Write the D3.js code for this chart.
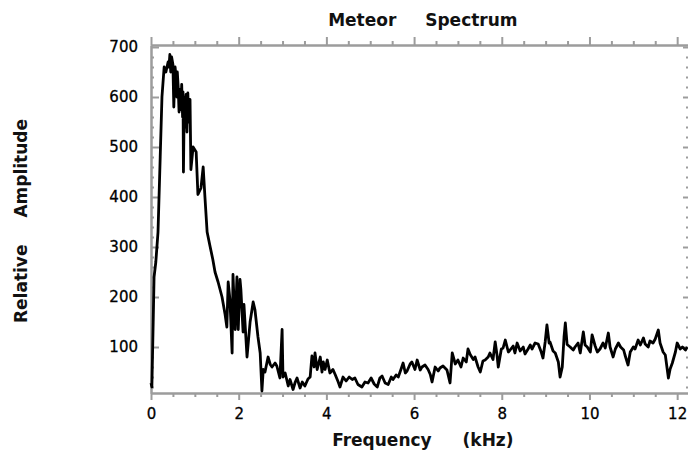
<!DOCTYPE html>
<html>
<head>
<meta charset="utf-8">
<script src="https://cdn.jsdelivr.net/npm/d3@7"></script>
<style>
  body { margin: 0; background: #fff; }
  svg { display: block; overflow: hidden; }
  .axis path, .axis line { stroke: #9c9c9c; stroke-width: 2; }
  .axis text { font-family: "DejaVu Sans", sans-serif; font-size: 15px; fill: #000; stroke: #000; stroke-width: 0.3; }
  .label { font-family: "DejaVu Sans", sans-serif; font-weight: bold; font-size: 17px; fill: #111; }
</style>
</head>
<body>
<div id="wrapper"></div>
<script>
// frequency in kHz
const freqKHz = [
  0.00, 0.02, 0.05, 0.07, 0.11, 0.16, 0.21, 0.25, 0.30, 0.34, 0.39, 0.41, 0.43, 0.45, 0.47, 0.48,
  0.50, 0.52, 0.55, 0.57, 0.59, 0.60, 0.62, 0.64, 0.66, 0.68, 0.70, 0.72, 0.73, 0.74, 0.76, 0.78,
  0.80, 0.82, 0.84, 0.86, 0.89, 0.91, 0.96, 1.03, 1.07, 1.14, 1.19,
  1.23, 1.28, 1.35, 1.41, 1.46, 1.53, 1.62, 1.69, 1.73, 1.76, 1.80, 1.85, 1.87, 1.92, 1.96, 1.99,
  2.03, 2.05, 2.10, 2.12, 2.19, 2.26, 2.33, 2.37, 2.44, 2.49, 2.53, 2.56, 2.60, 2.67, 2.72, 2.76,
  2.83, 2.87, 2.94, 2.99, 3.01, 3.06, 3.13, 3.17, 3.24, 3.29, 3.33, 3.40, 3.45, 3.51, 3.58, 3.63,
  3.67, 3.72, 3.74, 3.79, 3.86, 3.90, 3.93, 3.97, 4.02, 4.08, 4.15, 4.20, 4.27, 4.31, 4.38, 4.45,
  4.52, 4.59, 4.65, 4.72, 4.81, 4.88, 4.95, 5.02, 5.09, 5.16, 5.22, 5.27, 5.34, 5.41, 5.48, 5.52,
  5.59, 5.64, 5.70, 5.75, 5.80, 5.84, 5.91, 5.95, 6.02, 6.07, 6.14, 6.18, 6.25, 6.32, 6.37, 6.41,
  6.48, 6.55, 6.59, 6.66, 6.75, 6.82, 6.87, 6.94, 7.00, 7.07, 7.12, 7.19, 7.23, 7.28, 7.35, 7.39,
  7.46, 7.51, 7.57, 7.62, 7.69, 7.73, 7.80, 7.85, 7.89, 7.92, 7.99, 8.03, 8.08, 8.15, 8.19, 8.26,
  8.30, 8.35, 8.42, 8.49, 8.53, 8.60, 8.65, 8.69, 8.76, 8.83, 8.90, 8.94, 8.99, 9.03, 9.08, 9.10,
  9.17, 9.22, 9.29, 9.33, 9.38, 9.42, 9.45, 9.49, 9.56, 9.63, 9.67, 9.74, 9.79, 9.86, 9.90, 9.95,
  10.02, 10.06, 10.13, 10.18, 10.24, 10.31, 10.36, 10.43, 10.47, 10.54, 10.59, 10.66, 10.71, 10.78, 10.81, 10.88,
  10.93, 11.00, 11.04, 11.11, 11.16, 11.23, 11.27, 11.34, 11.38, 11.45, 11.50, 11.57, 11.61, 11.68, 11.73, 11.80,
  11.84, 11.89, 11.96, 12.00, 12.07, 12.12, 12.19, 12.23
]

const amplitude = [
  28, 20, 150, 240, 270, 330, 480, 600, 660, 650, 670, 660, 685, 650, 680, 675,
  665, 580, 660, 640, 600, 650, 620, 570, 615, 575, 625, 560, 610, 450, 600, 540,
  605, 530, 608, 550, 595, 455, 500, 490, 405, 418, 460,
  400, 330, 300, 275, 250, 230, 200, 165, 140, 230, 195, 88, 245, 135, 240, 135,
  235, 215, 130, 185, 80, 150, 190, 175, 120, 88, 12, 55, 50, 80, 65, 60,
  68, 62, 38, 135, 40, 48, 22, 35, 15, 30, 38, 18, 30, 22, 36, 40,
  82, 60, 88, 55, 80, 50, 70, 55, 74, 48, 55, 45, 30, 20, 40, 32,
  40, 35, 38, 25, 20, 30, 28, 38, 26, 20, 38, 42, 28, 25, 40, 35,
  44, 40, 55, 68, 48, 52, 66, 70, 55, 74, 54, 60, 64, 55, 45, 30,
  60, 52, 58, 62, 54, 28, 88, 66, 74, 60, 78, 70, 96, 85, 75, 80,
  60, 50, 72, 74, 80, 88, 75, 110, 85, 60, 96, 98, 114, 90, 94, 102,
  88, 108, 92, 100, 86, 96, 104, 96, 108, 106, 90, 78, 110, 144, 108, 110,
  92, 88, 70, 40, 60, 120, 148, 105, 100, 94, 100, 108, 88, 130, 104, 100,
  90, 124, 102, 90, 96, 108, 98, 128, 100, 80, 96, 108, 100, 94, 84, 64,
  90, 100, 96, 114, 104, 118, 106, 100, 112, 108, 116, 134, 108, 90, 84, 38,
  56, 68, 90, 108, 96, 100, 94, 100
]

const xTicks = [0, 2, 4, 6, 8, 10, 12]
const yTicks = [100, 200, 300, 400, 500, 600, 700]

function drawSpectrum() {
    const dataset = freqKHz.map((f, i) => ({ freq: f, amp: amplitude[i] }))
    const xAccessor = d => d.freq
    const yAccessor = d => d.amp

    let dimensions = {
        width: 688,
        height: 456,
        margin: {
            top: 45,
            right: -1,
            bottom: 63,
            left: 151,
        },
    }
    dimensions.boundedWidth = dimensions.width - dimensions.margin.left - dimensions.margin.right
    dimensions.boundedHeight = dimensions.height - dimensions.margin.top - dimensions.margin.bottom

    const wrapper = d3.select("#wrapper")
        .append("svg")
        .attr("width", dimensions.width)
        .attr("height", dimensions.height)

    const bounds = wrapper.append("g")
        .attr("transform", `translate(${dimensions.margin.left},${dimensions.margin.top})`)

    const xScale = d3.scaleLinear()
        .domain([0, 12.27])
        .range([0, dimensions.boundedWidth])
    const yScale = d3.scaleLinear()
        .domain([8, 704])
        .range([dimensions.boundedHeight, 0])

    const xMinor = d3.range(0, 12.3, 0.5).filter(v => v % 2 !== 0)
    const yMinor = d3.range(20, 704, 20).filter(v => v % 100 !== 0)

    // minor ticks first, then the major axes on top
    bounds.append("g").attr("class", "axis")
        .attr("transform", `translate(0,${dimensions.boundedHeight})`)
        .call(d3.axisBottom(xScale).tickValues(xMinor).tickSize(4).tickSizeOuter(0).tickFormat(""))
    bounds.append("g").attr("class", "axis")
        .call(d3.axisTop(xScale).tickValues(xMinor).tickSize(4).tickSizeOuter(0).tickFormat(""))
    bounds.append("g").attr("class", "axis")
        .call(d3.axisLeft(yScale).tickValues(yMinor).tickSize(-3).tickSizeOuter(0).tickFormat(""))
    bounds.append("g").attr("class", "axis")
        .attr("transform", `translate(${dimensions.boundedWidth},0)`)
        .call(d3.axisRight(yScale).tickValues(yMinor).tickSize(-3).tickSizeOuter(0).tickFormat(""))

    bounds.append("g").attr("class", "axis")
        .attr("transform", `translate(0,${dimensions.boundedHeight})`)
        .call(d3.axisBottom(xScale).tickValues(xTicks).tickSize(7).tickSizeOuter(0).tickPadding(8))
    bounds.append("g").attr("class", "axis")
        .call(d3.axisTop(xScale).tickValues(xTicks).tickSize(8).tickSizeOuter(0).tickFormat(""))
    bounds.append("g").attr("class", "axis")
        .call(d3.axisLeft(yScale).tickValues(yTicks).tickSize(-8).tickSizeOuter(0).tickPadding(13))
    bounds.append("g").attr("class", "axis")
        .attr("transform", `translate(${dimensions.boundedWidth},0)`)
        .call(d3.axisRight(yScale).tickValues(yTicks).tickSize(-6).tickSizeOuter(0).tickFormat(""))

    const lineGenerator = d3.line()
        .x(d => xScale(xAccessor(d)))
        .y(d => yScale(yAccessor(d)))

    bounds.append("path")
        .datum(dataset)
        .attr("d", lineGenerator)
        .attr("fill", "none")
        .attr("stroke", "#000")
        .attr("stroke-width", 2.8)
        .attr("stroke-linejoin", "round")

    const midX = dimensions.margin.left + xScale(6.2)

    wrapper.append("text")
        .attr("class", "label")
        .attr("x", midX)
        .attr("y", 26)
        .attr("text-anchor", "middle")
        .attr("word-spacing", 23)
        .text("Meteor Spectrum")

    wrapper.append("text")
        .attr("class", "label")
        .attr("x", midX)
        .attr("y", 446)
        .attr("text-anchor", "middle")
        .attr("word-spacing", 25)
        .text("Frequency (kHz)")

    wrapper.append("text")
        .attr("class", "label")
        .attr("transform", "translate(27,221) rotate(-90)")
        .attr("text-anchor", "middle")
        .attr("word-spacing", 21)
        .text("Relative Amplitude")
}

drawSpectrum()
</script>
</body>
</html>
